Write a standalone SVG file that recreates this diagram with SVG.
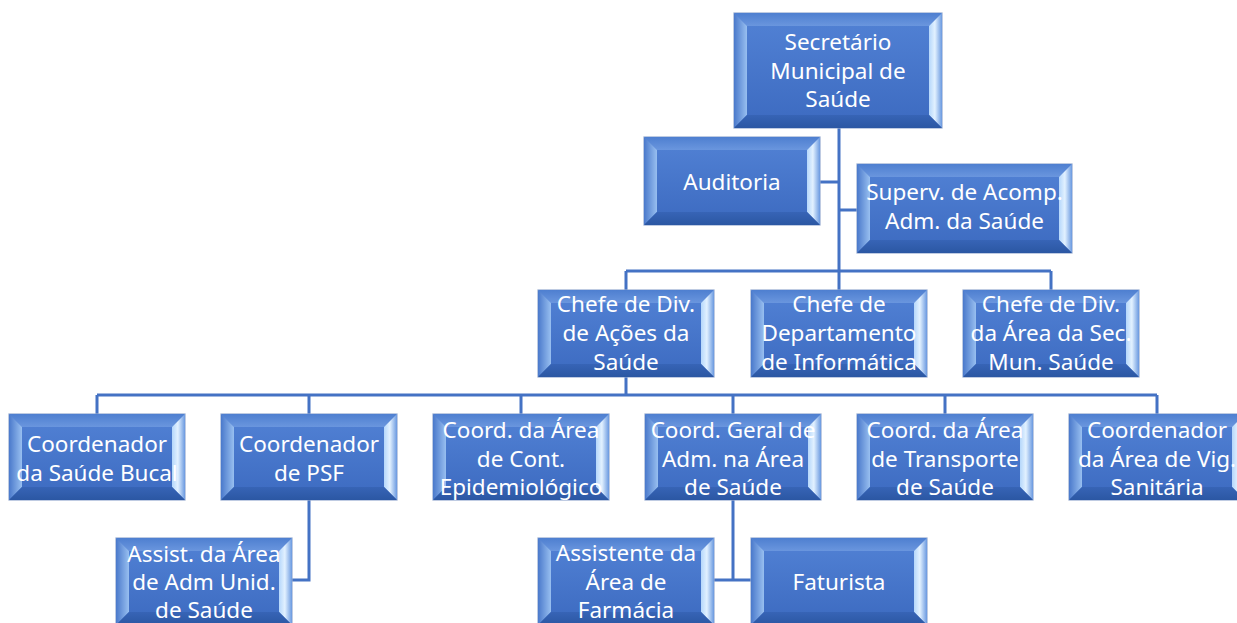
<svg xmlns="http://www.w3.org/2000/svg" width="1237" height="623" viewBox="0 0 1237 623">
<defs>
<linearGradient id="gFace" x1="0" y1="0" x2="0" y2="1"><stop offset="0" stop-color="#5282d5"/><stop offset="1" stop-color="#3c6ac0"/></linearGradient>
<linearGradient id="gTop" x1="0" y1="0" x2="0" y2="1"><stop offset="0" stop-color="#4e7fd0"/><stop offset="1" stop-color="#6a96de"/></linearGradient>
<linearGradient id="gBot" x1="0" y1="0" x2="0" y2="1"><stop offset="0" stop-color="#3764b6"/><stop offset="1" stop-color="#2b57a3"/></linearGradient>
<linearGradient id="gLeft" x1="0" y1="0" x2="1" y2="0"><stop offset="0" stop-color="#4a79cb"/><stop offset="1" stop-color="#98bff0"/></linearGradient>
<linearGradient id="gRight" x1="0" y1="0" x2="1" y2="0"><stop offset="0" stop-color="#b5d7fb"/><stop offset="0.45" stop-color="#e2f1ff"/><stop offset="1" stop-color="#6a99e0"/></linearGradient>
<style>
.o{fill:url(#gFace);stroke:#94a9cf;stroke-width:1.2}
.t{fill:url(#gTop)}
.b{fill:url(#gBot)}
.l{fill:url(#gLeft)}
.r{fill:url(#gRight)}
text{font-family:"Noto Sans","Liberation Sans",sans-serif;font-size:22.5px;fill:#ffffff;text-anchor:middle}
.c{fill:none;stroke:#4472c4;stroke-width:3}
</style>
</defs>
<g id="connectors">
<path class="c" d="M839 128V271M820 182H839M839 210H857M626 271H1051M626 271V290M839 271V290M1051 271V290"/>
<path class="c" d="M626 377V395M97 395H1157M97 395V414M309 395V414M521 395V414M733 395V414M945 395V414M1157 395V414"/>
<path class="c" d="M309 500V580H292M733 500V580M714 580H751"/>
</g>
<g id="n_secretario">
<rect class="o" x="734" y="13" width="208" height="115"/>
<polygon class="t" points="734,13 942,13 929,26 747,26"/>
<polygon class="l" points="734,13 747,26 747,115 734,128"/>
<polygon class="r" points="929,26 942,13 942,128 929,115"/>
<polygon class="b" points="734,128 747,115 929,115 942,128"/>
<text x="838" y="50">Secretário</text><text x="838" y="78.5">Municipal de</text><text x="838" y="107">Saúde</text>
</g>
<g id="n_auditoria">
<rect class="o" x="644" y="137" width="176" height="88"/>
<polygon class="t" points="644,137 820,137 807,150 657,150"/>
<polygon class="l" points="644,137 657,150 657,212 644,225"/>
<polygon class="r" points="807,150 820,137 820,225 807,212"/>
<polygon class="b" points="644,225 657,212 807,212 820,225"/>
<text x="732" y="190">Auditoria</text>
</g>
<g id="n_superv">
<rect class="o" x="857" y="164" width="215" height="89"/>
<polygon class="t" points="857,164 1072,164 1059,177 870,177"/>
<polygon class="l" points="857,164 870,177 870,240 857,253"/>
<polygon class="r" points="1059,177 1072,164 1072,253 1059,240"/>
<polygon class="b" points="857,253 870,240 1059,240 1072,253"/>
<text x="964.5" y="200">Superv. de Acomp.</text><text x="964.5" y="229">Adm. da Saúde</text>
</g>
<g id="n_chefe_acoes">
<rect class="o" x="538" y="290" width="176" height="87"/>
<polygon class="t" points="538,290 714,290 701,303 551,303"/>
<polygon class="l" points="538,290 551,303 551,364 538,377"/>
<polygon class="r" points="701,303 714,290 714,377 701,364"/>
<polygon class="b" points="538,377 551,364 701,364 714,377"/>
<text x="626" y="312">Chefe de Div.</text><text x="626" y="341">de Ações da</text><text x="626" y="370">Saúde</text>
</g>
<g id="n_chefe_info">
<rect class="o" x="751" y="290" width="176" height="87"/>
<polygon class="t" points="751,290 927,290 914,303 764,303"/>
<polygon class="l" points="751,290 764,303 764,364 751,377"/>
<polygon class="r" points="914,303 927,290 927,377 914,364"/>
<polygon class="b" points="751,377 764,364 914,364 927,377"/>
<text x="839" y="312">Chefe de</text><text x="839" y="341">Departamento</text><text x="839" y="370">de Informática</text>
</g>
<g id="n_chefe_area">
<rect class="o" x="963" y="290" width="176" height="87"/>
<polygon class="t" points="963,290 1139,290 1126,303 976,303"/>
<polygon class="l" points="963,290 976,303 976,364 963,377"/>
<polygon class="r" points="1126,303 1139,290 1139,377 1126,364"/>
<polygon class="b" points="963,377 976,364 1126,364 1139,377"/>
<text x="1051" y="312">Chefe de Div.</text><text x="1051" y="341">da Área da Sec.</text><text x="1051" y="370">Mun. Saúde</text>
</g>
<g id="n_bucal">
<rect class="o" x="9" y="414" width="176" height="86"/>
<polygon class="t" points="9,414 185,414 172,427 22,427"/>
<polygon class="l" points="9,414 22,427 22,487 9,500"/>
<polygon class="r" points="172,427 185,414 185,500 172,487"/>
<polygon class="b" points="9,500 22,487 172,487 185,500"/>
<text x="97" y="452">Coordenador</text><text x="97" y="481">da Saúde Bucal</text>
</g>
<g id="n_psf">
<rect class="o" x="221" y="414" width="176" height="86"/>
<polygon class="t" points="221,414 397,414 384,427 234,427"/>
<polygon class="l" points="221,414 234,427 234,487 221,500"/>
<polygon class="r" points="384,427 397,414 397,500 384,487"/>
<polygon class="b" points="221,500 234,487 384,487 397,500"/>
<text x="309" y="452">Coordenador</text><text x="309" y="481">de PSF</text>
</g>
<g id="n_epidem">
<rect class="o" x="433" y="414" width="176" height="86"/>
<polygon class="t" points="433,414 609,414 596,427 446,427"/>
<polygon class="l" points="433,414 446,427 446,487 433,500"/>
<polygon class="r" points="596,427 609,414 609,500 596,487"/>
<polygon class="b" points="433,500 446,487 596,487 609,500"/>
<text x="521" y="438">Coord. da Área</text><text x="521" y="467">de Cont.</text><text x="521" y="495">Epidemiológico</text>
</g>
<g id="n_geral">
<rect class="o" x="645" y="414" width="176" height="86"/>
<polygon class="t" points="645,414 821,414 808,427 658,427"/>
<polygon class="l" points="645,414 658,427 658,487 645,500"/>
<polygon class="r" points="808,427 821,414 821,500 808,487"/>
<polygon class="b" points="645,500 658,487 808,487 821,500"/>
<text x="733" y="438">Coord. Geral de</text><text x="733" y="467">Adm. na Área</text><text x="733" y="495">de Saúde</text>
</g>
<g id="n_transporte">
<rect class="o" x="857" y="414" width="176" height="86"/>
<polygon class="t" points="857,414 1033,414 1020,427 870,427"/>
<polygon class="l" points="857,414 870,427 870,487 857,500"/>
<polygon class="r" points="1020,427 1033,414 1033,500 1020,487"/>
<polygon class="b" points="857,500 870,487 1020,487 1033,500"/>
<text x="945" y="438">Coord. da Área</text><text x="945" y="467">de Transporte</text><text x="945" y="495">de Saúde</text>
</g>
<g id="n_vig">
<rect class="o" x="1069" y="414" width="176" height="86"/>
<polygon class="t" points="1069,414 1245,414 1232,427 1082,427"/>
<polygon class="l" points="1069,414 1082,427 1082,487 1069,500"/>
<polygon class="r" points="1232,427 1245,414 1245,500 1232,487"/>
<polygon class="b" points="1069,500 1082,487 1232,487 1245,500"/>
<text x="1157" y="438">Coordenador</text><text x="1157" y="467">da Área de Vig.</text><text x="1157" y="495">Sanitária</text>
</g>
<g id="n_assist_adm">
<rect class="o" x="116" y="538" width="176" height="87"/>
<polygon class="t" points="116,538 292,538 279,551 129,551"/>
<polygon class="l" points="116,538 129,551 129,612 116,625"/>
<polygon class="r" points="279,551 292,538 292,625 279,612"/>
<polygon class="b" points="116,625 129,612 279,612 292,625"/>
<text x="204" y="562">Assist. da Área</text><text x="204" y="590">de Adm Unid.</text><text x="204" y="618">de Saúde</text>
</g>
<g id="n_farmacia">
<rect class="o" x="538" y="538" width="176" height="87"/>
<polygon class="t" points="538,538 714,538 701,551 551,551"/>
<polygon class="l" points="538,538 551,551 551,612 538,625"/>
<polygon class="r" points="701,551 714,538 714,625 701,612"/>
<polygon class="b" points="538,625 551,612 701,612 714,625"/>
<text x="626" y="561">Assistente da</text><text x="626" y="590">Área de</text><text x="626" y="618">Farmácia</text>
</g>
<g id="n_faturista">
<rect class="o" x="751" y="538" width="176" height="87"/>
<polygon class="t" points="751,538 927,538 914,551 764,551"/>
<polygon class="l" points="751,538 764,551 764,612 751,625"/>
<polygon class="r" points="914,551 927,538 927,625 914,612"/>
<polygon class="b" points="751,625 764,612 914,612 927,625"/>
<text x="839" y="590">Faturista</text>
</g>
</svg>
